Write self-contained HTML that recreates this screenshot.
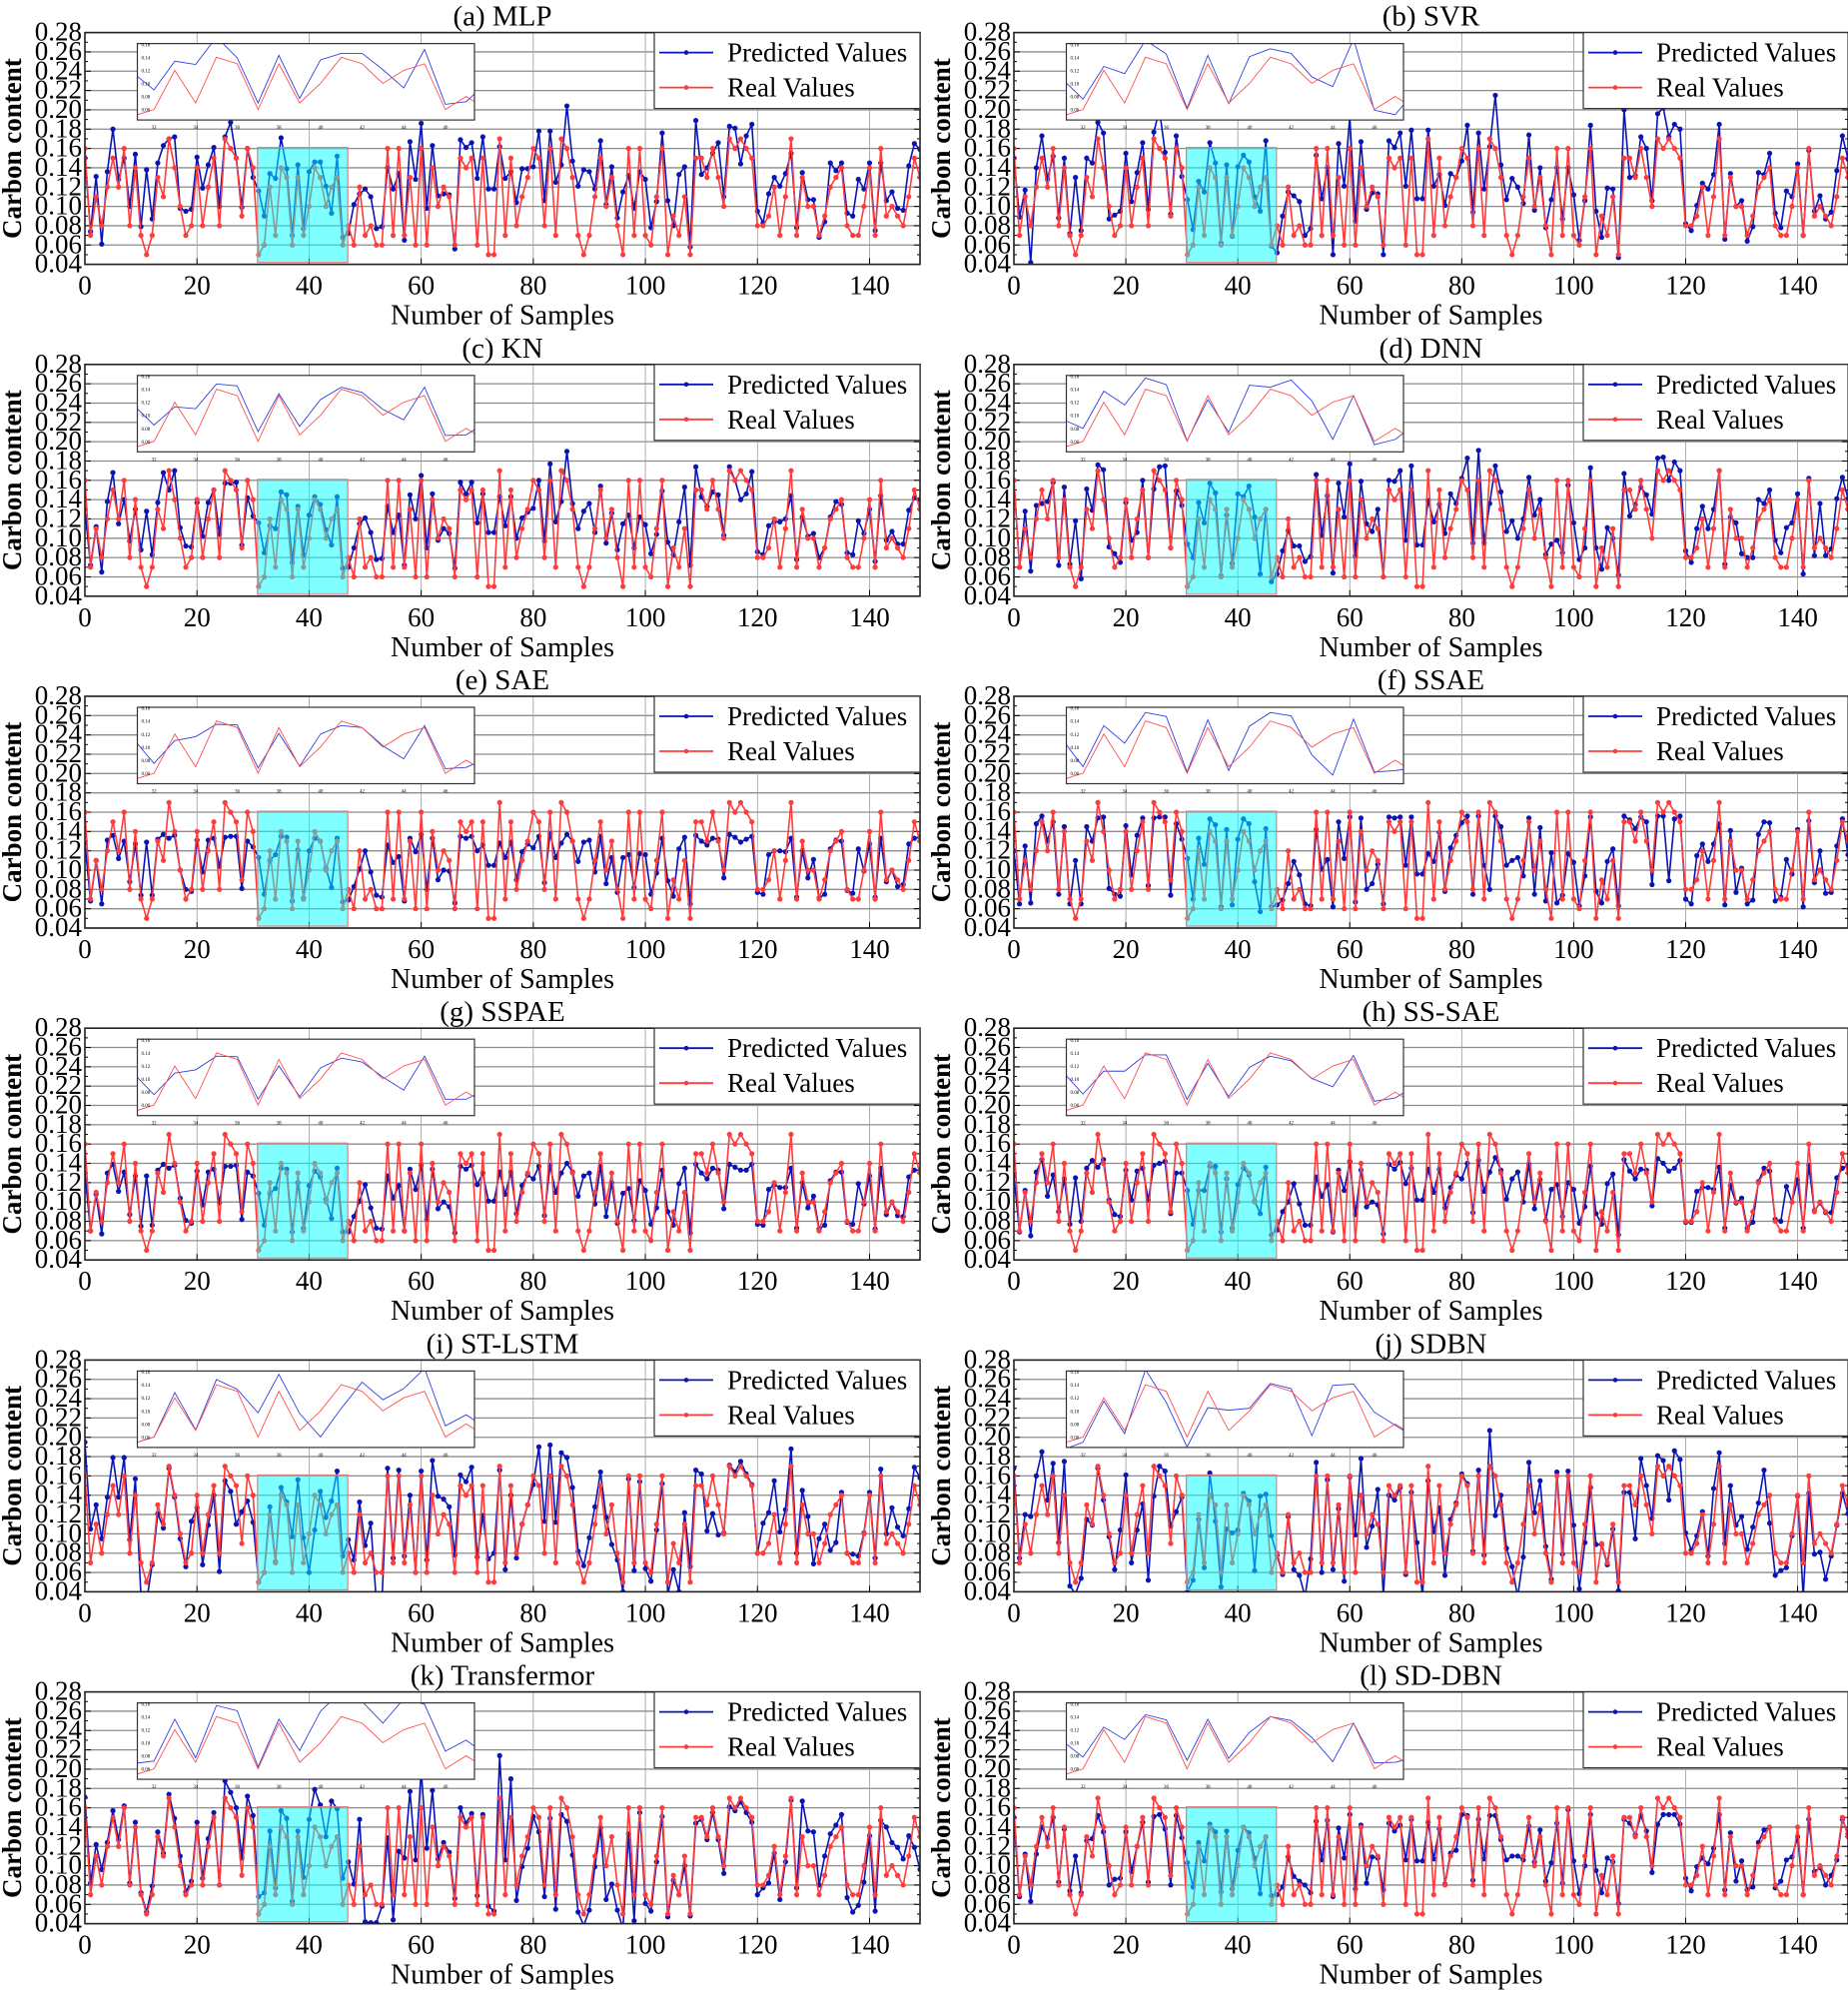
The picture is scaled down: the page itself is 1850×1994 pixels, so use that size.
<!DOCTYPE html>
<html><head><meta charset="utf-8">
<style>
html,body{margin:0;padding:0;background:#fff;}
svg{display:block;}
svg text{font-family:"Liberation Serif","DejaVu Serif",serif;fill:#000;}
</style></head>
<body>
<svg id="fig" xmlns="http://www.w3.org/2000/svg" width="1850" height="1994" viewBox="0 0 1850 1994" font-family="'Liberation Serif','DejaVu Serif',serif">
</svg>
<script>
// ---------- DATA ----------
const panelTitles = ["(a) MLP","(b) SVR","(c) KN","(d) DNN","(e) SAE","(f) SSAE","(g) SSPAE","(h) SS-SAE","(i) ST-LSTM","(j) SDBN","(k) Transfermor","(l) SD-DBN"];
const yTicks = [0.04,0.06,0.08,0.10,0.12,0.14,0.16,0.18,0.20,0.22,0.24,0.26,0.28];
const yTickLabels = ["0.04","0.06","0.08","0.10","0.12","0.14","0.16","0.18","0.20","0.22","0.24","0.26","0.28"];
const xTicks = [0,20,40,60,80,100,120,140];
const insetXTicks = [32,34,36,38,40,42,44,46];
const insetYTicks = [0.06,0.08,0.10,0.12,0.14,0.16];
const realValues = [
.16,.07,.11,.08,.12,.15,.12,.16,.08,.14,
.07,.05,.07,.13,.11,.17,.14,.10,.07,.08,
.14,.08,.12,.15,.08,.17,.16,.15,.09,.16,
.14,.05,.06,.12,.07,.14,.13,.06,.13,.07,
.10,.14,.13,.10,.12,.13,.06,.08,.06,.12,
.07,.08,.06,.06,.16,.07,.16,.07,.13,.06,
.16,.06,.14,.10,.12,.11,.06,.15,.14,.15,
.06,.15,.05,.05,.17,.07,.15,.08,.11,.13,
.16,.15,.08,.16,.07,.17,.16,.13,.07,.05,
.07,.11,.15,.10,.13,.08,.05,.16,.07,.16,
.07,.06,.11,.16,.05,.09,.07,.11,.05,.15,
.15,.13,.16,.13,.10,.17,.16,.17,.16,.15,
.08,.08,.09,.12,.07,.11,.17,.07,.13,.10,
.10,.07,.09,.12,.13,.14,.08,.07,.07,.10,
.14,.07,.16,.09,.10,.09,.08,.11,.15,.13];
const predMLP = [
.15,.074,.131,.061,.136,.180,.128,.15,.10,.154,
.079,.138,.087,.145,.163,.170,.172,.098,.095,.097,
.151,.119,.143,.161,.10,.172,.187,.15,.099,.16,
.13,.116,.09,.134,.129,.171,.139,.07,.143,.077,
.136,.146,.146,.121,.093,.152,.068,.072,.102,.113,
.118,.110,.077,.079,.14,.118,.134,.065,.167,.128,
.186,.098,.163,.111,.113,.112,.056,.169,.161,.166,
.129,.172,.118,.118,.162,.129,.136,.104,.139,.139,
.141,.178,.106,.178,.125,.143,.204,.147,.121,.138,
.136,.118,.168,.102,.141,.088,.115,.132,.098,.136,
.128,.078,.105,.176,.106,.08,.133,.141,.058,.189,
.133,.14,.155,.166,.11,.183,.181,.144,.173,.185,
.095,.083,.113,.130,.121,.134,.155,.078,.135,.107,
.107,.068,.084,.145,.137,.145,.093,.09,.128,.118,
.145,.075,.145,.106,.115,.098,.096,.142,.165,.159];
const predSVR = [
.15,.089,.117,.042,.14,.173,.128,.152,.088,.15,
.072,.13,.075,.15,.145,.187,.176,.087,.091,.095,
.155,.105,.135,.166,.097,.177,.2,.156,.092,.173,
.131,.107,.076,.126,.115,.166,.145,.062,.143,.069,
.141,.153,.146,.11,.095,.168,.059,.052,.09,.115,
.111,.105,.07,.077,.153,.108,.14,.05,.165,.121,
.193,.085,.167,.097,.114,.113,.05,.168,.161,.176,
.121,.179,.108,.108,.179,.121,.133,.101,.134,.13,
.147,.184,.094,.176,.118,.162,.215,.143,.107,.129,
.12,.103,.174,.096,.14,.078,.107,.14,.087,.14,
.112,.065,.106,.184,.095,.068,.119,.118,.047,.2,
.13,.132,.172,.16,.106,.196,.202,.172,.185,.18,
.082,.075,.101,.124,.118,.133,.185,.066,.134,.1,
.106,.064,.079,.135,.133,.155,.093,.078,.116,.11,
.144,.07,.158,.095,.111,.087,.094,.137,.173,.149];
const predKN = [
.13,.072,.112,.065,.138,.168,.115,.14,.097,.13,
.088,.128,.083,.137,.168,.15,.17,.111,.092,.091,
.137,.102,.137,.15,.104,.157,.157,.158,.093,.142,
.123,.116,.085,.113,.11,.148,.145,.075,.133,.083,
.124,.143,.135,.109,.093,.143,.069,.07,.09,.115,
.121,.106,.078,.079,.133,.106,.124,.072,.145,.12,
.165,.09,.146,.098,.11,.105,.069,.158,.146,.158,
.116,.146,.106,.106,.143,.113,.143,.1,.121,.127,
.131,.16,.097,.177,.117,.138,.19,.136,.11,.128,
.136,.106,.154,.095,.126,.088,.115,.124,.09,.122,
.114,.084,.104,.149,.096,.083,.117,.153,.072,.174,
.143,.133,.148,.145,.103,.174,.16,.14,.146,.169,
.086,.083,.113,.117,.117,.12,.144,.078,.122,.102,
.105,.08,.09,.122,.138,.135,.085,.083,.118,.105,
.13,.076,.144,.098,.107,.094,.094,.129,.142,.14];
const predDNN = [
.16,.07,.128,.066,.134,.136,.138,.158,.072,.153,
.073,.118,.058,.151,.129,.176,.171,.091,.084,.075,
.137,.098,.106,.16,.08,.151,.174,.175,.09,.149,
.134,.094,.08,.137,.116,.157,.147,.061,.124,.074,
.146,.143,.154,.122,.063,.13,.055,.063,.087,.108,
.092,.092,.076,.081,.166,.103,.144,.064,.157,.122,
.177,.082,.159,.115,.107,.13,.06,.16,.159,.17,
.098,.175,.093,.093,.139,.117,.135,.105,.146,.136,
.162,.183,.095,.191,.095,.136,.175,.148,.107,.118,
.1,.12,.163,.124,.14,.083,.094,.098,.085,.155,
.116,.078,.09,.173,.09,.068,.111,.1,.062,.167,
.123,.135,.153,.145,.125,.183,.184,.16,.179,.17,
.087,.075,.11,.133,.11,.13,.17,.073,.122,.116,
.084,.08,.08,.14,.136,.15,.098,.085,.111,.116,
.146,.063,.162,.082,.136,.082,.089,.141,.163,.141];
const predSAE = [
.128,.068,.11,.065,.131,.136,.112,.13,.088,.127,
.074,.129,.074,.132,.137,.133,.136,.1,.08,.078,
.131,.098,.131,.133,.104,.134,.135,.135,.081,.13,
.124,.113,.075,.11,.116,.135,.134,.068,.121,.071,
.12,.133,.13,.102,.082,.133,.067,.069,.083,.101,
.12,.098,.074,.072,.126,.108,.114,.068,.133,.119,
.137,.08,.133,.09,.1,.099,.066,.135,.133,.135,
.12,.126,.105,.105,.128,.113,.129,.09,.119,.127,
.123,.135,.087,.138,.113,.128,.137,.13,.109,.129,
.131,.098,.135,.086,.113,.077,.113,.116,.082,.117,
.116,.075,.097,.133,.089,.073,.122,.134,.065,.136,
.13,.126,.133,.132,.092,.137,.134,.129,.132,.135,
.077,.075,.116,.12,.12,.119,.133,.072,.12,.092,
.111,.071,.075,.122,.131,.13,.079,.076,.122,.099,
.127,.072,.133,.088,.1,.083,.085,.127,.133,.134];
const predSSAE = [
.12,.065,.125,.066,.148,.156,.13,.15,.075,.145,
.065,.11,.065,.145,.13,.154,.155,.081,.075,.073,
.146,.095,.136,.154,.084,.154,.155,.155,.074,.148,
.132,.112,.07,.133,.106,.153,.147,.062,.142,.064,
.132,.153,.148,.088,.057,.143,.062,.064,.069,.086,
.109,.095,.065,.063,.142,.101,.111,.062,.15,.112,
.155,.067,.154,.08,.086,.106,.065,.155,.154,.155,
.105,.155,.096,.096,.117,.109,.139,.078,.123,.136,
.149,.156,.075,.156,.105,.08,.156,.145,.105,.11,
.113,.094,.154,.075,.144,.068,.118,.066,.074,.117,
.108,.063,.094,.155,.078,.066,.109,.122,.063,.156,
.152,.143,.155,.15,.085,.156,.156,.089,.153,.156,
.07,.065,.115,.127,.109,.127,.148,.064,.141,.077,
.102,.065,.069,.137,.15,.149,.068,.072,.111,.096,
.142,.062,.151,.087,.12,.076,.077,.125,.153,.116];
const predSSPAE = [
.13,.07,.108,.067,.13,.139,.111,.131,.087,.127,
.075,.127,.076,.133,.139,.135,.138,.104,.081,.078,
.132,.097,.131,.134,.099,.137,.137,.138,.082,.131,
.127,.109,.076,.109,.114,.135,.134,.069,.12,.073,
.117,.132,.126,.103,.083,.135,.069,.069,.085,.101,
.118,.094,.073,.072,.127,.104,.117,.07,.134,.113,
.138,.082,.134,.093,.1,.095,.068,.137,.134,.138,
.118,.13,.101,.101,.131,.108,.131,.088,.117,.128,
.124,.137,.086,.138,.11,.13,.14,.131,.106,.127,
.13,.098,.137,.085,.12,.078,.109,.114,.081,.122,
.112,.077,.094,.133,.09,.076,.119,.135,.068,.139,
.13,.124,.135,.133,.093,.139,.136,.133,.133,.139,
.077,.076,.113,.118,.115,.115,.135,.073,.12,.094,
.106,.072,.076,.122,.131,.131,.079,.077,.119,.098,
.127,.072,.135,.087,.1,.086,.085,.126,.133,.133];
const predSSSAE = [
.127,.069,.112,.065,.131,.144,.106,.128,.09,.124,
.077,.125,.08,.135,.143,.136,.144,.102,.087,.085,
.133,.102,.132,.135,.102,.138,.14,.142,.088,.13,
.13,.112,.077,.112,.112,.137,.137,.069,.124,.073,
.118,.135,.128,.101,.088,.136,.066,.071,.09,.1,
.119,.098,.076,.076,.126,.106,.118,.069,.133,.112,
.142,.087,.133,.095,.1,.097,.067,.139,.134,.141,
.119,.135,.102,.102,.134,.11,.134,.094,.115,.128,
.124,.14,.089,.143,.111,.131,.146,.133,.103,.124,
.131,.1,.139,.093,.123,.081,.113,.118,.085,.12,
.113,.078,.095,.137,.088,.077,.119,.129,.066,.144,
.132,.124,.134,.133,.096,.145,.14,.132,.135,.143,
.079,.079,.111,.115,.115,.113,.136,.073,.117,.099,
.104,.073,.079,.121,.135,.132,.082,.08,.116,.1,
.123,.073,.138,.091,.099,.089,.089,.125,.135,.138];
const predSTLSTM = [
.195,.105,.13,.095,.138,.179,.138,.179,.094,.157,
.035,.03,.068,.121,.106,.168,.138,.095,.066,.113,
.127,.068,.109,.14,.061,.155,.144,.11,.123,.134,
.112,.05,.06,.128,.071,.148,.133,.097,.156,.096,
.06,.104,.144,.117,.134,.165,.077,.094,.073,.133,
.088,.111,.03,.03,.168,.075,.166,.077,.14,.06,
.165,.073,.176,.139,.136,.128,.078,.161,.154,.169,
.076,.119,.074,.08,.166,.063,.14,.075,.11,.13,
.151,.19,.113,.192,.112,.184,.179,.148,.082,.067,
.096,.128,.164,.117,.089,.073,.04,.157,.062,.154,
.064,.051,.104,.152,.038,.063,.04,.122,.066,.166,
.162,.103,.121,.099,.101,.171,.164,.175,.162,.151,
.08,.111,.122,.155,.102,.125,.188,.08,.145,.118,
.069,.095,.11,.083,.091,.143,.08,.079,.077,.101,
.143,.075,.167,.1,.127,.107,.098,.126,.169,.158];
const predSDBN = [
.168,.075,.12,.118,.16,.185,.135,.173,.091,.175,
.046,.038,.054,.115,.109,.168,.135,.097,.063,.104,
.161,.07,.104,.131,.052,.139,.17,.165,.108,.123,
.138,.04,.052,.115,.065,.163,.113,.045,.105,.101,
.104,.142,.134,.062,.139,.141,.098,.078,.058,.118,
.063,.057,.035,.074,.174,.06,.156,.063,.126,.051,
.159,.099,.178,.086,.108,.146,.035,.14,.135,.148,
.058,.143,.091,.035,.155,.102,.127,.057,.115,.132,
.162,.152,.082,.166,.078,.207,.119,.14,.085,.066,
.035,.076,.174,.122,.155,.087,.053,.164,.079,.165,
.109,.043,.091,.148,.089,.089,.068,.105,.041,.143,
.143,.095,.178,.15,.116,.181,.176,.135,.186,.177,
.101,.083,.098,.123,.077,.147,.184,.09,.15,.109,
.118,.084,.107,.132,.166,.111,.057,.062,.065,.098,
.139,.035,.142,.079,.081,.053,.077,.109,.142,.121];
const predTransformer = [
.171,.082,.122,.096,.124,.157,.127,.162,.082,.145,
.072,.052,.079,.135,.113,.174,.149,.11,.073,.084,
.145,.087,.128,.155,.08,.188,.176,.16,.108,.172,
.152,.068,.072,.136,.077,.157,.149,.063,.136,.088,
.148,.179,.163,.13,.167,.159,.087,.104,.081,.148,
.042,.041,.041,.058,.129,.044,.115,.108,.177,.106,
.199,.118,.178,.107,.124,.114,.066,.16,.144,.154,
.069,.153,.058,.053,.214,.106,.19,.064,.099,.118,
.151,.135,.068,.149,.055,.153,.146,.111,.052,.038,
.054,.099,.139,.065,.081,.054,.035,.133,.043,.155,
.061,.053,.104,.151,.047,.085,.07,.1,.048,.144,
.148,.127,.155,.127,.092,.161,.157,.166,.155,.145,
.07,.077,.082,.113,.065,.104,.168,.077,.167,.136,
.135,.08,.11,.133,.142,.153,.067,.052,.059,.083,
.131,.053,.147,.14,.124,.119,.107,.131,.119,.096];
const predSDDBN = [
.15,.068,.112,.063,.112,.14,.128,.15,.083,.138,
.074,.11,.072,.126,.128,.152,.135,.08,.086,.087,
.135,.094,.12,.145,.083,.151,.153,.138,.08,.152,
.129,.103,.078,.124,.105,.143,.135,.073,.136,.076,
.116,.14,.134,.108,.071,.13,.069,.07,.078,.109,
.089,.084,.08,.072,.146,.106,.147,.068,.139,.108,
.153,.076,.142,.082,.109,.108,.075,.144,.136,.142,
.106,.148,.105,.105,.145,.107,.138,.081,.113,.116,
.153,.152,.085,.148,.107,.152,.152,.127,.106,.11,
.11,.106,.141,.104,.137,.084,.103,.144,.082,.158,
.105,.071,.1,.153,.095,.072,.108,.104,.061,.148,
.144,.132,.152,.136,.093,.143,.153,.153,.153,.143,
.087,.074,.099,.108,.102,.118,.153,.075,.134,.084,
.105,.075,.078,.124,.137,.14,.077,.084,.106,.109,
.13,.07,.148,.094,.098,.08,.09,.106,.148,.133];
const predictedSeries = [predMLP,predSVR,predKN,predDNN,predSAE,predSSAE,predSSPAE,predSSSAE,predSTLSTM,predSDBN,predTransformer,predSDDBN];

// ---------- DRAWING ----------
const NS = "http://www.w3.org/2000/svg";
const FONT = "'Liberation Serif','DejaVu Serif',serif";
const fig = document.getElementById('fig');
function mk(tag, attrs, parent){
  const e = document.createElementNS(NS, tag);
  for (const k in attrs) e.setAttribute(k, attrs[k]);
  if (tag === 'text') e.setAttribute('font-family', FONT);
  (parent||fig).appendChild(e);
  return e;
}
const X_MAX = 149, Y_MIN = 0.04, Y_MAX = 0.28;
const BLUE = "#0a14b4", RED = "#ff3c3c";

function drawPanel(idx){
  const r = Math.floor(idx/2), c = idx%2;
  const pl = c===0 ? 85 : 1015;
  const pw = c===0 ? 836 : 835;
  const pt = 32.6 + 332.2*r;
  const ph = 232;
  const xs = v => pl + v/X_MAX*pw;
  const ys = v => pt + (Y_MAX - v)/(Y_MAX - Y_MIN)*ph;
  const name = panelTitles[idx].replace(/[()]/g,'').trim().toLowerCase().replace(/\s+/g,'-');

  const g = mk('g', {});
  
  

  const cid = 'clip' + idx;
  const cp = mk('clipPath', {id: cid}, g);
  mk('rect', {x: pl, y: pt, width: pw, height: ph}, cp);

  const grid = mk('g', {}, g);
  
  
  yTicks.forEach(v => mk('line', {x1: pl, x2: pl+pw, y1: ys(v), y2: ys(v), stroke: '#8c8c8c', 'stroke-width': 1.3}, grid));
  xTicks.forEach(v => { if (v>0) mk('line', {x1: xs(v), x2: xs(v), y1: pt, y2: pt+ph, stroke: '#9a9a9a', 'stroke-width': 0.8}, grid); });

  const yax = mk('g', {}, g);
  
  
  yTicks.forEach((v,i) => {
    const t = mk('text', {x: pl-3, y: ys(v)+8, 'text-anchor': 'end', 'font-size': 27}, yax);
    t.textContent = yTickLabels[i];
  });
  for (let v = Y_MIN; v <= Y_MAX+1e-9; v += 0.01){
    const len = (Math.round(v*100)%2===0) ? 6 : 3;
    mk('line', {x1: pl, x2: pl+len, y1: ys(v), y2: ys(v), stroke: '#000', 'stroke-width': 1}, yax);
    mk('line', {x1: pl+pw, x2: pl+pw-len, y1: ys(v), y2: ys(v), stroke: '#000', 'stroke-width': 1}, yax);
  }
  const yt = mk('text', {x: 0, y: 0, 'text-anchor': 'middle', 'font-size': 27, 'font-weight': 'bold', transform: `translate(${pl-64},${pt+ph/2}) rotate(-90)`}, yax);
  yt.textContent = 'Carbon content';
  
  

  const xax = mk('g', {}, g);
  
  
  xTicks.forEach(v => {
    const t = mk('text', {x: xs(v), y: pt+ph+30, 'text-anchor': 'middle', 'font-size': 27}, xax);
    t.textContent = String(v);
    mk('line', {x1: xs(v), x2: xs(v), y1: pt+ph, y2: pt+ph-6, stroke: '#000'}, xax);
  });
  const xt = mk('text', {x: pl+pw/2, y: pt+ph+60, 'text-anchor': 'middle', 'font-size': 28}, xax);
  xt.textContent = 'Number of Samples';
  
  

  const tt = mk('text', {x: pl+pw/2, y: pt-7, 'text-anchor': 'middle', 'font-size': 29}, g);
  tt.textContent = panelTitles[idx];
  
  

  const series = mk('g', {'clip-path': `url(#${cid})`}, g);
  const pred = predictedSeries[idx];
  function drawSeries(arr, color, nm){
    const sg = mk('g', {}, series);
    
    
    const pts = arr.map((v,i) => xs(i).toFixed(2)+','+ys(v).toFixed(2)).join(' ');
    mk('polyline', {points: pts, fill: 'none', stroke: color, 'stroke-width': 1.6}, sg);
    arr.forEach((v,i) => {
      const m = mk('circle', {cx: xs(i), cy: ys(v), r: 2.6, fill: color}, sg);
      
      
    });
  }
  drawSeries(pred, BLUE, 'predicted-series');
  drawSeries(realValues, RED, 'real-series');

  const hl = mk('rect', {x: xs(30.8), y: ys(0.161), width: xs(46.9)-xs(30.8), height: ys(0.042)-ys(0.161), fill: '#00ffff', 'fill-opacity': 0.5, stroke: '#e08080', 'stroke-width': 1.2}, g);
  
  

  mk('rect', {x: pl, y: pt, width: pw, height: ph, fill: 'none', stroke: '#222', 'stroke-width': 1.6}, g);

  const ig = mk('g', {}, g);
  
  
  const il = pl+52.5, it = pt+11, iw = 337.5, ih = 76.5;
  const ix0 = 31.2, ix1 = 47.4, iy0 = 0.044, iy1 = 0.161;
  const ixs = v => il + (v-ix0)/(ix1-ix0)*iw;
  const iys = v => it + (iy1-v)/(iy1-iy0)*ih;
  mk('rect', {x: il, y: it, width: iw, height: ih, fill: '#fff', stroke: 'none'}, ig);
  const icid = 'iclip' + idx;
  const icp = mk('clipPath', {id: icid}, ig);
  mk('rect', {x: il, y: it, width: iw, height: ih}, icp);
  const il2 = mk('g', {'clip-path': `url(#${icid})`}, ig);
  function insetLine(arr, color){
    const pts = [];
    for (let i = 31; i <= 48 && i < arr.length; i++) pts.push(ixs(i).toFixed(2)+','+iys(arr[i]).toFixed(2));
    mk('polyline', {points: pts.join(' '), fill: 'none', stroke: color, 'stroke-width': 0.9}, il2);
  }
  insetLine(pred, '#3040e0');
  insetLine(realValues, '#ff5050');
  mk('rect', {x: il, y: it, width: iw, height: ih, fill: 'none', stroke: '#333', 'stroke-width': 1.2}, ig);
  insetYTicks.forEach(v => {
    const t = mk('text', {x: il+4, y: iys(v)+2, 'font-size': 5}, ig);
    t.textContent = v.toFixed(2);
  });
  insetXTicks.forEach(v => {
    const t = mk('text', {x: ixs(v), y: it+ih+9, 'text-anchor': 'middle', 'font-size': 5}, ig);
    t.textContent = String(v);
  });

  const lg = mk('g', {}, g);
  
  
  const lx = pl+570, lw = pw-570;
  mk('rect', {x: lx, y: pt, width: lw, height: 76, fill: '#fff', stroke: '#333', 'stroke-width': 1.2}, lg);
  [[BLUE,'Predicted Values','legend-entry-predicted',20],[RED,'Real Values','legend-entry-real',55]].forEach(e => {
    const eg = mk('g', {}, lg);
    
    
    mk('line', {x1: lx+5, x2: lx+59, y1: pt+e[3], y2: pt+e[3], stroke: e[0], 'stroke-width': 1.8}, eg);
    mk('circle', {cx: lx+32, cy: pt+e[3], r: 2.3, fill: e[0]}, eg);
    const t = mk('text', {x: lx+73, y: pt+e[3]+9, 'font-size': 27}, eg);
    t.textContent = e[1];
  });
}
for (let i = 0; i < 12; i++) drawPanel(i);
</script>
</body></html>
